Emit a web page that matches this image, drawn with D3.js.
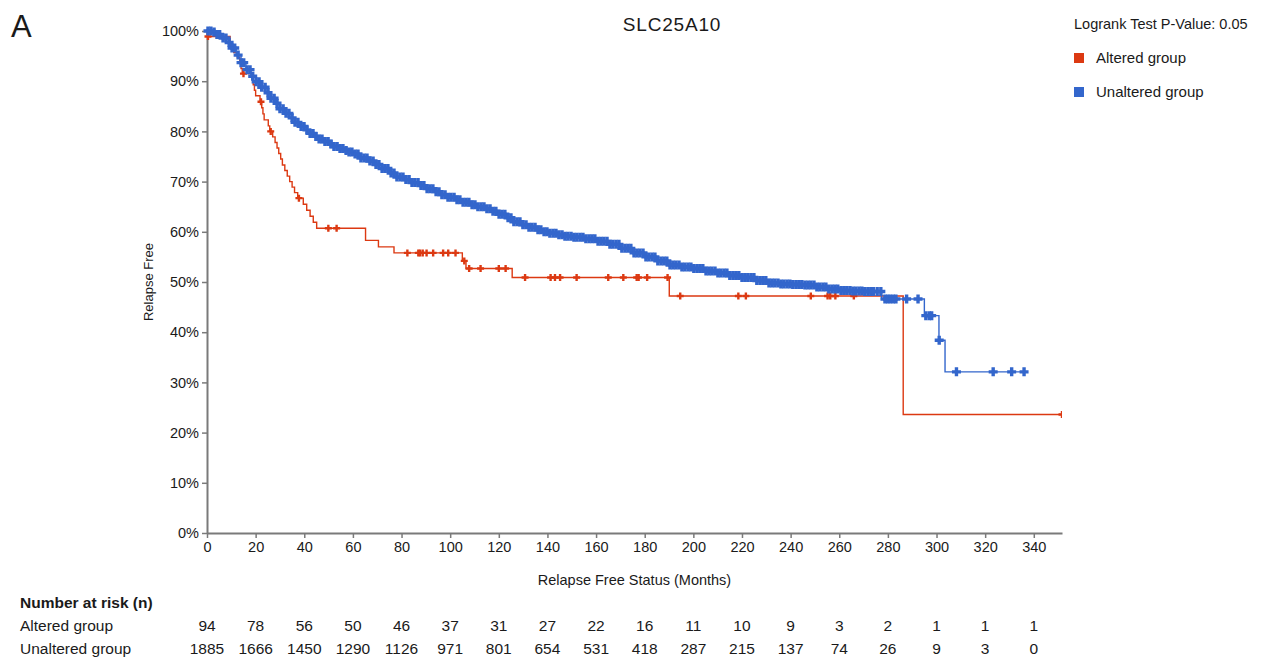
<!DOCTYPE html>
<meta charset="utf-8">
<html>
<head>
	<script src="https://d3js.org/d3.v7.min.js"></script>
	<style>
		body { margin: 0; background: #fff; }
		text { font-family: "Liberation Sans", Arial, sans-serif; fill: #1a1a1a; }
		.axis path { stroke: #7a7a7a; stroke-width: 2; }
		.axis line { stroke: #7a7a7a; stroke-width: 1.5; }
		.axis text { font-size: 14.5px; fill: #1a1a1a; font-family: "Liberation Sans", Arial, sans-serif; }
	</style>
</head>
<body>
	<svg id="chart" width="1265" height="662"></svg>
	<script>
		var title = "SLC25A10";
		var pValueText = "Logrank Test P-Value: 0.05";
		var groups = ["Altered group", "Unaltered group"];
		var groupColors = ["#dc3912", "#3366cc"];
		var xTicks = [0, 20, 40, 60, 80, 100, 120, 140, 160, 180, 200, 220, 240, 260, 280, 300, 320, 340];
		var yTicks = [0, 0.1, 0.2, 0.3, 0.4, 0.5, 0.6, 0.7, 0.8, 0.9, 1];
		var xMax = 351.6;

		// Kaplan-Meier steps: [months, survival after the step]
		var alteredSteps = [
			[0, 1], [0.2, 0.989], [9.5, 0.968], [11, 0.957], [12.5, 0.947], [13.5, 0.936], [14, 0.925], [14.5, 0.915],
			[19, 0.893], [19.5, 0.882], [20, 0.871], [21.8, 0.859], [22.5, 0.847], [23, 0.835], [23.5, 0.823],
			[25.2, 0.811], [25.8, 0.800], [27, 0.789], [28, 0.778], [28.8, 0.767], [29.5, 0.756], [30.3, 0.745],
			[31, 0.733], [32, 0.722], [33, 0.711], [34, 0.700], [35, 0.689], [36, 0.678], [37.3, 0.667],
			[39.6, 0.655], [41, 0.643], [42.4, 0.631], [43.7, 0.619], [45.1, 0.607], [65.2, 0.583], [70.5, 0.570],
			[76.9, 0.558], [105, 0.542], [106.5, 0.527], [125.5, 0.509], [190.1, 0.472], [286.3, 0.236]
		];
		// censored times (months)
		var alteredCensor = [0.4, 15, 22.2, 26.2, 37.8, 49.9, 53.3, 82.4, 86.9, 87.6, 88.7, 90.3, 93.0, 97.1, 99.2, 102.2,
			105.8, 107.8, 112.5, 120, 122.8, 130.8, 141.3, 143.1, 145.2, 152.0, 165.0, 171.2, 176.7, 177.5, 181.0, 189.4,
			194.6, 218.5, 221.6, 248.3, 255.2, 256.3, 258.4, 266.0, 351.6];

		var unalteredSteps = [
			[0, 1], [2, 0.998], [4, 0.993], [6, 0.986], [8, 0.977], [10, 0.966], [12, 0.952], [14, 0.937], [16, 0.923],
			[18, 0.910], [20, 0.899], [22, 0.888], [24, 0.877], [26, 0.866], [28, 0.856], [30, 0.845], [32, 0.836],
			[34, 0.827], [36, 0.818], [38, 0.810], [40, 0.803], [42, 0.796], [44, 0.790], [46, 0.785], [48, 0.780],
			[50, 0.775], [52, 0.770], [54, 0.766], [56, 0.762], [58, 0.759], [60, 0.755], [63, 0.747], [66, 0.741],
			[69, 0.734], [72, 0.726], [75, 0.717], [78, 0.709], [81, 0.704], [84, 0.698], [87, 0.692], [90, 0.686],
			[93, 0.680], [96, 0.674], [99, 0.669], [102, 0.664], [105, 0.659], [108, 0.654], [111, 0.650], [114, 0.646],
			[117, 0.641], [120, 0.635], [123, 0.628], [126, 0.620], [129, 0.614], [132, 0.609], [135, 0.604],
			[138, 0.600], [141, 0.597], [144, 0.594], [147, 0.591], [150, 0.589], [155, 0.586], [160, 0.581],
			[165, 0.575], [170, 0.567], [175, 0.558], [180, 0.550], [185, 0.542], [190, 0.534], [195, 0.530],
			[200, 0.527], [205, 0.522], [210, 0.518], [215, 0.513], [220, 0.509], [225, 0.503], [230, 0.498],
			[235, 0.496], [240, 0.495], [245, 0.494], [250, 0.490], [255, 0.486], [260, 0.483], [265, 0.482],
			[270, 0.481], [277.4, 0.466], [295, 0.433], [301, 0.384], [303.5, 0.321]
		];
		var unalteredCensor = [0.4, 1.6, 2.9, 4.1, 5.2, 6.6, 7.8, 9.1, 10.3, 11.4, 12.8, 14.0, 15.1, 16.5, 17.7, 18.8,
			20.2, 21.4, 22.5, 23.9, 25.1, 26.3, 27.6, 28.8, 30.0, 31.3, 32.5, 33.7, 35.0, 36.2, 37.4, 38.7, 39.9, 41.1,
			42.4, 43.6, 44.8, 46.1, 47.3, 48.5, 49.8, 51.0, 52.2, 53.5, 54.7, 55.9, 57.2, 58.4, 59.6, 60.9, 62.1, 63.3,
			64.6, 65.8, 67.0, 68.3, 69.5, 70.7, 72.0, 73.2, 74.4, 75.7, 76.9, 78.1, 79.4, 80.6, 81.8, 83.1, 84.3, 85.5,
			86.8, 88.0, 89.2, 90.5, 91.7, 92.9, 94.2, 95.4, 96.6, 97.9, 99.1, 100.3, 101.6, 102.8, 104.0, 105.3, 106.5,
			107.7, 109.0, 110.2, 111.4, 112.7, 113.9, 115.1, 116.4, 117.6, 118.8, 120.1, 121.3, 122.5, 123.8, 125.0,
			126.2, 127.5, 128.7, 129.9, 131.2, 132.4, 133.6, 134.9, 136.1, 137.3, 138.6, 139.8, 141.0, 142.3, 143.5,
			144.7, 146.0, 147.2, 148.4, 149.7, 150.9, 152.1, 153.4, 154.6, 155.8, 157.1, 158.3, 159.5, 160.8, 162.0,
			163.2, 164.5, 165.7, 166.9, 168.2, 169.4, 170.6, 171.9, 173.1, 174.3, 175.6, 176.8, 178.0, 179.3, 180.5,
			181.7, 183.0, 184.2, 185.4, 186.7, 187.9, 189.1, 190.4, 191.6, 192.8, 194.1, 195.3, 196.5, 197.8, 199.0,
			200.2, 201.5, 202.7, 203.9, 205.2, 206.4, 207.6, 208.9, 210.1, 211.3, 212.6, 213.8, 215.0, 216.3, 217.5,
			218.7, 220.0, 221.2, 222.4, 223.7, 224.9, 226.1, 227.4, 228.6, 229.8, 231.1, 232.3, 233.5, 234.8, 236.0,
			237.2, 238.5, 239.7, 240.9, 242.2, 243.4, 244.6, 245.9, 247.1, 248.3, 249.6, 250.8, 252.0, 253.3, 254.5,
			255.7, 257.0, 258.2, 259.4, 260.7, 261.9, 263.1, 264.4, 265.6, 266.8, 268.1, 269.3, 270.5, 271.8, 273.0,
			274.0, 275.6, 277.1, 278.8, 279.9, 281.0, 282.2, 283.3, 287.7, 292.4, 295.6, 297.0, 298.0, 301.1, 308.2,
			323.3, 330.9, 336.0];

		var riskAltered = [94, 78, 56, 50, 46, 37, 31, 27, 22, 16, 11, 10, 9, 3, 2, 1, 1, 1];
		var riskUnaltered = [1885, 1666, 1450, 1290, 1126, 971, 801, 654, 531, 418, 287, 215, 137, 74, 26, 9, 3, 0];

		var plot = {left: 207, right: 1062, top: 31, bottom: 533};

		var svg = d3.select("#chart");

		var x = d3.scaleLinear().domain([0, xMax]).range([plot.left, plot.right]);
		var y = d3.scaleLinear().domain([0, 1]).range([plot.bottom, plot.top]);

		var bisect = d3.bisector(function(d) { return d[0]; }).right;
		function survivalAt(steps, t) {
			return steps[Math.max(0, bisect(steps, t) - 1)][1];
		}

		var stepLine = d3.line()
			.x(function(d) { return x(d[0]); })
			.y(function(d) { return y(d[1]); })
			.curve(d3.curveStepAfter);

		svg.append("clipPath").attr("id", "plotClip")
			.append("rect").attr("x", 0).attr("y", 0).attr("width", plot.right).attr("height", 662);

		// axes
		svg.append("g")
			.attr("class", "axis")
			.attr("transform", "translate(0," + plot.bottom + ")")
			.call(d3.axisBottom(x).tickValues(xTicks).tickSize(5).tickSizeOuter(0).tickPadding(4));

		svg.append("g")
			.attr("class", "axis")
			.attr("transform", "translate(" + plot.left + ",0)")
			.call(d3.axisLeft(y).tickValues(yTicks).tickFormat(d3.format(".0%")).tickSize(5).tickSizeOuter(0).tickPadding(3));

		// curves
		var series = [
			{steps: alteredSteps, censor: alteredCensor, color: groupColors[0], arm: 3.5, width: 2.4},
			{steps: unalteredSteps, censor: unalteredCensor, color: groupColors[1], arm: 4.5, width: 3.4}
		];

		var curves = svg.append("g").attr("clip-path", "url(#plotClip)");

		series.forEach(function(s) {
			var lastT = d3.max(s.censor);
			var pts = s.steps.concat([[lastT, s.steps[s.steps.length - 1][1]]]);
			curves.append("path")
				.datum(pts)
				.attr("d", stepLine)
				.attr("fill", "none")
				.attr("stroke", s.color)
				.attr("stroke-width", 1.4);

			curves.append("g").selectAll("path")
				.data(s.censor)
				.enter().append("path")
					.attr("transform", function(t) { return "translate(" + x(t) + "," + y(survivalAt(s.steps, t)) + ")"; })
					.attr("d", "M" + (-s.arm) + ",0H" + s.arm + "M0," + (-s.arm) + "V" + s.arm)
					.attr("stroke", s.color)
					.attr("stroke-width", s.width)
					.attr("fill", "none");
		});

		// titles and labels
		svg.append("text").attr("x", 11).attr("y", 37).attr("font-size", "31px").text("A");

		svg.append("text").attr("x", 672).attr("y", 31).attr("text-anchor", "middle")
			.attr("font-size", "19px").attr("letter-spacing", "0.8px").text(title);

		svg.append("text")
			.attr("transform", "translate(153," + ((plot.top + plot.bottom) / 2) + ") rotate(-90)")
			.attr("text-anchor", "middle").attr("font-size", "13px").text("Relapse Free");

		svg.append("text").attr("x", (plot.left + plot.right) / 2).attr("y", 585).attr("text-anchor", "middle")
			.attr("font-size", "14.5px").text("Relapse Free Status (Months)");

		// legend
		svg.append("text").attr("x", 1074).attr("y", 29).attr("font-size", "14.5px").text(pValueText);

		var legend = svg.append("g").selectAll("g")
			.data(groups)
			.enter().append("g")
				.attr("transform", function(d, i) { return "translate(1074," + (53 + i * 34) + ")"; });
		legend.append("rect").attr("width", 10).attr("height", 10)
			.attr("fill", function(d, i) { return groupColors[i]; });
		legend.append("text").attr("x", 22).attr("y", 10).attr("font-size", "15px").text(function(d) { return d; });

		// number at risk table
		svg.append("text").attr("x", 20).attr("y", 608).attr("font-size", "15.5px").attr("font-weight", "bold")
			.text("Number at risk (n)");

		var riskRows = [riskAltered, riskUnaltered];
		riskRows.forEach(function(row, r) {
			var rowY = 631 + r * 23;
			svg.append("text").attr("x", 20).attr("y", rowY).attr("font-size", "15.5px").text(groups[r]);
			svg.append("g").selectAll("text")
				.data(row)
				.enter().append("text")
					.attr("x", function(d, i) { return x(xTicks[i]); })
					.attr("y", rowY)
					.attr("text-anchor", "middle")
					.attr("font-size", "15.5px")
					.text(function(d) { return d; });
		});
	</script>
</body>
</html>
